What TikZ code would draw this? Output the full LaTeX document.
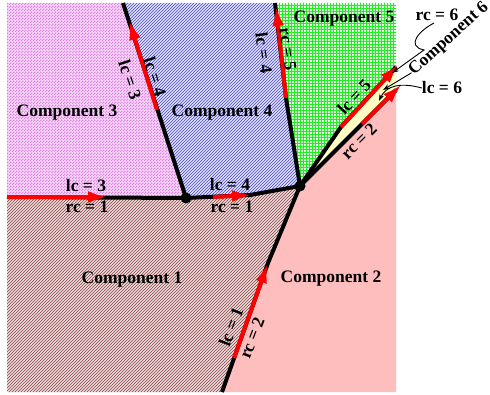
\documentclass[tikz,border=0pt]{standalone}
\usepackage{fontspec}
\setmainfont{Liberation Serif}
\usetikzlibrary{patterns,arrows.meta}

\pgfdeclarepatternformonly{hatchne}{\pgfqpoint{-1pt}{-1pt}}{\pgfqpoint{4pt}{4pt}}{\pgfqpoint{3pt}{3pt}}{%
  \pgfsetlinewidth{0.6pt}\pgfpathmoveto{\pgfqpoint{0pt}{0pt}}\pgfpathlineto{\pgfqpoint{3.1pt}{3.1pt}}\pgfusepath{stroke}}
\pgfdeclarepatternformonly{gridfine}{\pgfqpoint{-1pt}{-1pt}}{\pgfqpoint{4pt}{4pt}}{\pgfqpoint{3pt}{3pt}}{%
  \pgfsetlinewidth{0.8pt}\pgfpathmoveto{\pgfqpoint{0pt}{0pt}}\pgfpathlineto{\pgfqpoint{3pt}{0pt}}%
  \pgfpathmoveto{\pgfqpoint{0pt}{0pt}}\pgfpathlineto{\pgfqpoint{0pt}{3pt}}\pgfusepath{stroke}}
\pgfdeclarepatternformonly{checkfine}{\pgfqpoint{0pt}{0pt}}{\pgfqpoint{3pt}{3pt}}{\pgfqpoint{3pt}{3pt}}{%
  \pgfpathrectangle{\pgfqpoint{0pt}{0pt}}{\pgfqpoint{1.5pt}{1.5pt}}%
  \pgfpathrectangle{\pgfqpoint{1.5pt}{1.5pt}}{\pgfqpoint{1.5pt}{1.5pt}}\pgfusepath{fill}}

\definecolor{cthreebase}{RGB}{248,214,248}
\definecolor{cthreepat}{RGB}{220,130,226}
\definecolor{cfourbase}{RGB}{226,228,252}
\definecolor{cfourpat}{RGB}{70,70,205}
\definecolor{conebase}{RGB}{238,222,222}
\definecolor{conepat}{RGB}{135,65,65}
\definecolor{cfivebase}{RGB}{225,255,225}
\definecolor{cfivepat}{RGB}{40,235,40}
\definecolor{ctwofill}{RGB}{255,190,190}
\definecolor{csixfill}{RGB}{255,255,196}

\begin{document}
\begin{tikzpicture}[x=1pt,y=-1pt,
  edge/.style={line width=4pt,black,line join=round},
  redarrow/.style={line width=4pt,red,-{Latex[length=20pt,width=12pt]}},
  lab/.style={font=\fontsize{17.5}{18}\selectfont\bfseries,inner sep=0pt},
  annot/.style={line width=0.9pt,black,-{Stealth[length=7pt,width=5pt]}},
  vtx/.style={circle,fill=black,inner sep=0pt,minimum size=11pt}]
\useasboundingbox (0,0) rectangle (490,395);
% frame corners and vertices
\coordinate (tl) at (7,3);
\coordinate (tr) at (396,3);
\coordinate (br) at (396,392);
\coordinate (bl) at (7,392);
\coordinate (L) at (7,197);
\coordinate (v1) at (186,198);
\coordinate (t1) at (123,3);
\coordinate (m) at (250,195);
\coordinate (v2) at (300,186);
\coordinate (p) at (286,98);
\coordinate (t2) at (275,3);
\coordinate (q) at (268,263);
\coordinate (b) at (222,392);
\coordinate (u1) at (341,127);
\coordinate (u2) at (396,67);
\coordinate (w2) at (396,90);
% regions
\fill[cthreebase] (tl) -- (t1) -- (v1) -- (L) -- cycle;
\fill[pattern=checkfine,pattern color=cthreepat] (tl) -- (t1) -- (v1) -- (L) -- cycle;
\fill[cfourbase] (t1) -- (t2) -- (p) -- (v2) -- (m) -- (v1) -- cycle;
\fill[pattern=hatchne,pattern color=cfourpat] (t1) -- (t2) -- (p) -- (v2) -- (m) -- (v1) -- cycle;
\fill[cfivebase] (t2) -- (tr) -- (u2) -- (u1) -- (v2) -- (p) -- cycle;
\fill[pattern=gridfine,pattern color=cfivepat] (t2) -- (tr) -- (u2) -- (u1) -- (v2) -- (p) -- cycle;
\fill[csixfill] (v2) -- (u1) -- (u2) -- (w2) -- cycle;
\fill[ctwofill] (v2) -- (w2) -- (br) -- (b) -- (q) -- cycle;
\fill[conebase] (L) -- (v1) -- (m) -- (v2) -- (q) -- (b) -- (bl) -- cycle;
\fill[pattern=hatchne,pattern color=conepat] (L) -- (v1) -- (m) -- (v2) -- (q) -- (b) -- (bl) -- cycle;
% edges
\draw[edge] (L) -- (v1);
\draw[edge] (v1) -- (m) -- (v2);
\draw[edge] (v1) -- (t1);
\draw[edge] (v2) -- (p) -- (t2);
\draw[edge] (v2) -- (q) -- (b);
\draw[edge] (v2) -- (u1) -- (u2);
\draw[edge] (v2) -- (w2);
% red direction arrows
\coordinate (a1e) at (108,197);
\coordinate (a2s) at (213,197);
\coordinate (a2e) at (252,195);
\coordinate (a3s) at (157,110);
\coordinate (a3e) at (129,20);
\coordinate (a4e) at (276,6);
\coordinate (a5s) at (234,358);
\coordinate (a6e) at (399,64);
\coordinate (a7s) at (362,124);
\coordinate (a7e) at (402,84);
\draw[redarrow] (L) -- (a1e);
\draw[redarrow] (a2s) -- (a2e);
\draw[redarrow] (a3s) -- (a3e);
\draw[redarrow] (p) -- (a4e);
\draw[redarrow] (a5s) -- (q);
\draw[redarrow] (u1) -- (a6e);
\draw[redarrow] (a7s) -- (a7e);
% vertices
\node[vtx] (n1) at (v1) {};
\node[vtx] (n2) at (v2) {};
% component labels
\node[lab] (comp3) at (67,113) {Component 3};
\node[lab] (comp4) at (222,113) {Component 4};
\node[lab] (comp5) at (344,19) {Component 5};
\node[lab] (comp1) at (132,280) {Component 1};
\node[lab] (comp2) at (331,279) {Component 2};
% edge labels
\node[lab] (l1) at (86,186) {lc = 3};
\node[lab] (l2) at (87,207) {rc = 1};
\node[lab] (l3) at (230,185) {lc = 4};
\node[lab] (l4) at (232,207) {rc = 1};
\node[lab,rotate=-72] (l5) at (155,77) {lc = 4};
\node[lab,rotate=-72] (l6) at (130,80) {lc = 3};
\node[lab,rotate=-82] (l7) at (264,53) {lc = 4};
\node[lab,rotate=-82] (l8) at (288,49) {rc = 5};
\node[lab,rotate=47] (l9) at (354,97) {lc = 5};
\node[lab,rotate=45] (l10) at (359,141) {rc = 2};
\node[lab,rotate=69] (l11) at (231,327) {lc = 1};
\node[lab,rotate=69] (l12) at (252,338) {rc = 2};
% annotations
\node[lab] (rc6) at (437,15) {rc = 6};
\node[lab] (lc6) at (442,88) {lc = 6};
\node[lab,rotate=42] (comp6) at (449,39) {Component 6};
\coordinate (k1) at (392,73);
\coordinate (k2) at (383,90);
\coordinate (k3) at (379,101);
\draw[annot] ([xshift=-3pt,yshift=-2pt]rc6.south) .. controls (420,30) and (405,46) .. (424,50) -- (k1);
\draw[annot] (comp6.west) -- (k2);
\draw[annot] (lc6.west) .. controls (400,82) and (386,86) .. (k3);
\end{tikzpicture}
\end{document}
